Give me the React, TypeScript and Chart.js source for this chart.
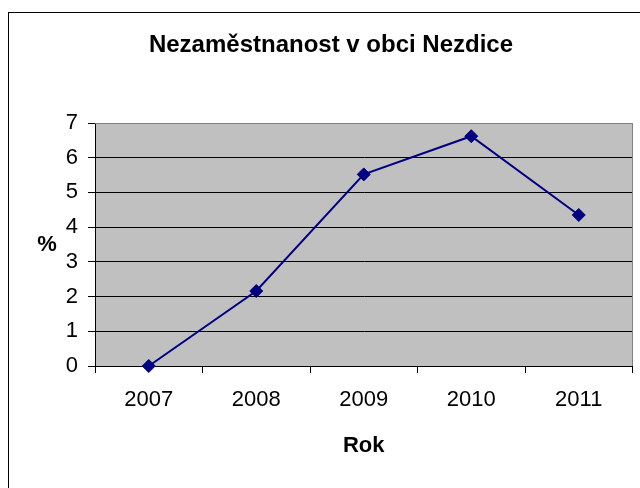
import React, { useEffect, useRef } from "react";
import { Chart, registerables } from "chart.js";

Chart.register(...registerables);

const years = ["2007", "2008", "2009", "2010", "2011"];
const unemployment = [0, 2.16, 5.52, 6.62, 4.35];
const titleText = "Nezaměstnanost v obci Nezdice";
const xTitle = "Rok";
const yTitle = "%";
const yMin = 0;
const yMax = 7;

const FONT = "'Liberation Sans', Arial, sans-serif";

const framePlugin = {
  id: "frame",
  beforeDraw(chart: any) {
    const { ctx, chartArea } = chart;
    ctx.save();
    ctx.fillStyle = "#ffffff";
    ctx.fillRect(0, 0, chart.width, chart.height);
    ctx.strokeStyle = "#000000";
    ctx.lineWidth = 1;
    ctx.strokeRect(8.5, 12.5, 1000, 1000);
    ctx.fillStyle = "#C0C0C0";
    ctx.fillRect(chartArea.left, chartArea.top, chartArea.right - chartArea.left, chartArea.bottom - chartArea.top);
    ctx.restore();
  },
  beforeDatasetsDraw(chart: any) {
    const { ctx, chartArea } = chart;
    ctx.save();
    ctx.strokeStyle = "#808080";
    ctx.lineWidth = 1;
    ctx.beginPath();
    const x = Math.round(chartArea.right) - 0.5;
    const y = Math.round(chartArea.top) + 0.5;
    ctx.moveTo(Math.round(chartArea.left), y);
    ctx.lineTo(x, y);
    ctx.lineTo(x, Math.round(chartArea.bottom));
    ctx.stroke();
    ctx.restore();
  },
  afterDraw(chart: any) {
    const { ctx, chartArea } = chart;
    ctx.save();
    ctx.fillStyle = "#000000";
    ctx.font = `bold 22px ${FONT}`;
    ctx.textAlign = "center";
    ctx.textBaseline = "middle";
    ctx.fillText(yTitle, 47, (chartArea.top + chartArea.bottom) / 2);
    ctx.restore();
  },
};

export default function App() {
  const ref = useRef<HTMLCanvasElement | null>(null);
  useEffect(() => {
    if (!ref.current) return;
    Chart.defaults.font.family = FONT;
    const chart = new Chart(ref.current, {
      type: "line",
      data: {
        labels: years,
        datasets: [
          {
            data: unemployment,
            borderColor: "#000080",
            backgroundColor: "#000080",
            borderWidth: 2,
            pointStyle: "rectRot",
            pointRadius: 6.5,
            pointBorderWidth: 1,
            pointBorderColor: "#000080",
            pointBackgroundColor: "#000080",
            tension: 0,
            clip: false,
          },
        ],
      },
      options: {
        responsive: false,
        animation: false,
        devicePixelRatio: 1,
        layout: { padding: { top: 0, right: 6, bottom: 0, left: 28 } },
        plugins: {
          legend: { display: false },
          tooltip: { enabled: false },
          title: {
            display: true,
            text: titleText,
            color: "#000000",
            font: { size: 24, weight: "bold", family: FONT },
            padding: { top: 30.6, bottom: 63.6 },
          },
        },
        scales: {
          x: {
            type: "category",
            offset: true,
            grid: {
              offset: true,
              drawOnChartArea: false,
              drawTicks: true,
              tickLength: 7,
              color: "#000000",
              tickColor: "#000000",
            },
            border: { display: true, color: "#000000", width: 1 },
            ticks: { color: "#000000", font: { size: 22, family: FONT }, padding: 14, maxRotation: 0 },
            title: {
              display: true,
              text: xTitle,
              color: "#000000",
              font: { size: 22, weight: "bold", family: FONT },
              padding: { top: 0, bottom: 29 },
            },
            afterFit(scale: any) {
              scale.height = 122;
            },
          },
          y: {
            min: yMin,
            max: yMax,
            grid: {
              drawTicks: true,
              tickLength: 7,
              color: (c: any) => (c.tick && c.tick.value === yMax ? "#808080" : "#000000"),
              tickColor: "#000000",
            },
            border: { display: true, color: "#000000", width: 1 },
            ticks: { stepSize: 1, color: "#000000", font: { size: 22, family: FONT }, padding: 10 },
            afterFit(scale: any) {
              scale.width = 67;
            },
          },
        },
      },
      plugins: [framePlugin],
    });
    return () => chart.destroy();
  }, []);
  return (
    <div style={{ position: "fixed", left: 0, top: 0, width: 640, height: 488 }}>
      <canvas ref={ref} width={640} height={488} style={{ width: 640, height: 488 }} />
    </div>
  );
}
